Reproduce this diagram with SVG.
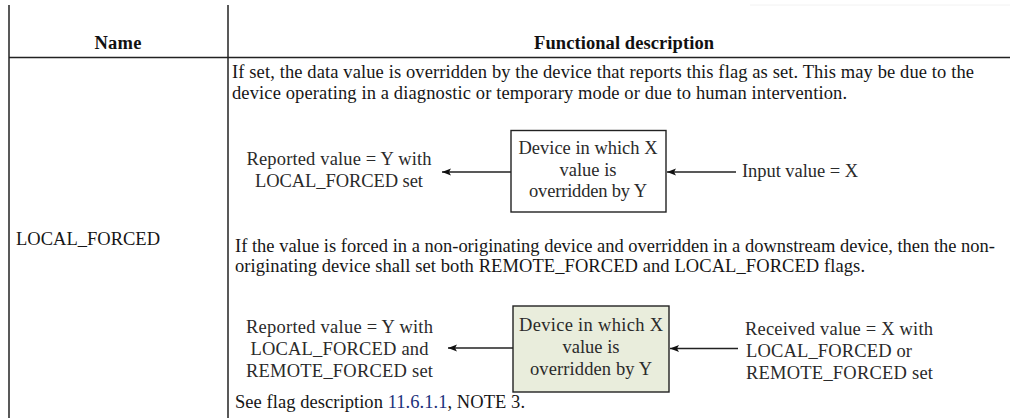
<svg xmlns="http://www.w3.org/2000/svg" width="1010" height="418" viewBox="0 0 1010 418">
  <defs>
    <marker id="arrowhead" markerWidth="10" markerHeight="8" refX="9" refY="4" orient="auto" markerUnits="userSpaceOnUse">
      <path d="M9,4 L0,0.5 L2,4 L0,7.5 Z" fill="#111"/>
    </marker>
    <style>
      .grid { stroke: #222; stroke-width: 1.5; fill: none; }
      .head { font-family: "Liberation Serif", "Times New Roman", serif; font-size: 18.5px; font-weight: bold; fill: #111; }
      .body { font-family: "Liberation Serif", "Times New Roman", serif; font-size: 18.5px; fill: #161616; }
      .fig { font-family: "Liberation Serif", "Times New Roman", serif; font-size: 18.5px; fill: #2a2a2a; }
      .box { stroke: #222; stroke-width: 1.4; }
      .link { stroke: #222; stroke-width: 1.3; fill: none; }
    </style>
  </defs>

  <rect width="1010" height="418" fill="#ffffff"/>

  <!-- table rules -->
  <g id="table">
    <line x1="750" y1="5" x2="1010" y2="5" stroke="#f2f2f2" stroke-width="1"/>
    <line class="grid" x1="9" y1="5" x2="9" y2="418"/>
    <line class="grid" x1="228" y1="5" x2="228" y2="418"/>
    <line class="grid" x1="9" y1="57.5" x2="1010" y2="57.5" stroke-width="1.8"/>
    <text class="head" x="118" y="49" text-anchor="middle" textLength="47">Name</text>
    <text class="head" x="624" y="49" text-anchor="middle" textLength="180">Functional description</text>
    <text class="body" x="16" y="245" textLength="144">LOCAL_FORCED</text>
  </g>

  <!-- description text -->
  <g id="description">
    <text class="body" x="232" y="78" textLength="742">If set, the data value is overridden by the device that reports this flag as set. This may be due to the</text>
    <text class="body" x="232" y="99" textLength="615">device operating in a diagnostic or temporary mode or due to human intervention.</text>
    <text class="body" x="235" y="252" textLength="760">If the value is forced in a non-originating device and overridden in a downstream device, then the non-</text>
    <text class="body" x="235" y="272" textLength="630">originating device shall set both REMOTE_FORCED and LOCAL_FORCED flags.</text>
    <text class="body" x="235" y="408" textLength="290">See flag description <tspan fill="#1c2f7a">11.6.1.1</tspan>, NOTE 3.</text>
  </g>

  <!-- first example: local override -->
  <g id="device-local">
    <rect class="box" x="511" y="130.5" width="155" height="81.5" fill="#ffffff"/>
    <text class="fig" x="588" y="154" text-anchor="middle" textLength="139">Device in which X</text>
    <text class="fig" x="588" y="175.5" text-anchor="middle" textLength="57">value is</text>
    <text class="fig" x="588" y="197" text-anchor="middle" textLength="118">overridden by Y</text>
  </g>
  <g id="reported-local">
    <text class="fig" x="339" y="165" text-anchor="middle" textLength="185">Reported value = Y with</text>
    <text class="fig" x="339" y="186.5" text-anchor="middle" textLength="168">LOCAL_FORCED set</text>
  </g>
  <g id="input-local">
    <text class="fig" x="742" y="177" textLength="116">Input value = X</text>
  </g>

  <!-- second example: downstream override -->
  <g id="device-remote">
    <rect class="box" x="513" y="306" width="156" height="86" fill="#e9eddc"/>
    <text class="fig" x="591" y="331" text-anchor="middle" textLength="144">Device in which X</text>
    <text class="fig" x="591" y="353" text-anchor="middle" textLength="57">value is</text>
    <text class="fig" x="591" y="375" text-anchor="middle" textLength="122">overridden by Y</text>
  </g>
  <g id="reported-remote">
    <text class="fig" x="339.5" y="333" text-anchor="middle" textLength="187">Reported value = Y with</text>
    <text class="fig" x="339.5" y="355" text-anchor="middle" textLength="178">LOCAL_FORCED and</text>
    <text class="fig" x="339.5" y="377" text-anchor="middle" textLength="187">REMOTE_FORCED set</text>
  </g>
  <g id="received-remote">
    <text class="fig" x="745" y="335" textLength="188">Received value = X with</text>
    <text class="fig" x="746" y="357" textLength="166">LOCAL_FORCED or</text>
    <text class="fig" x="746" y="379" textLength="187">REMOTE_FORCED set</text>
  </g>

  <!-- connectors -->
  <g id="connectors">
    <line class="link" x1="511" y1="172" x2="442" y2="172" marker-end="url(#arrowhead)"/>
    <line class="link" x1="736" y1="172" x2="667" y2="172" marker-end="url(#arrowhead)"/>
    <line class="link" x1="513" y1="348" x2="448" y2="348" marker-end="url(#arrowhead)"/>
    <line class="link" x1="738" y1="348.5" x2="670" y2="348.5" marker-end="url(#arrowhead)"/>
  </g>
</svg>
